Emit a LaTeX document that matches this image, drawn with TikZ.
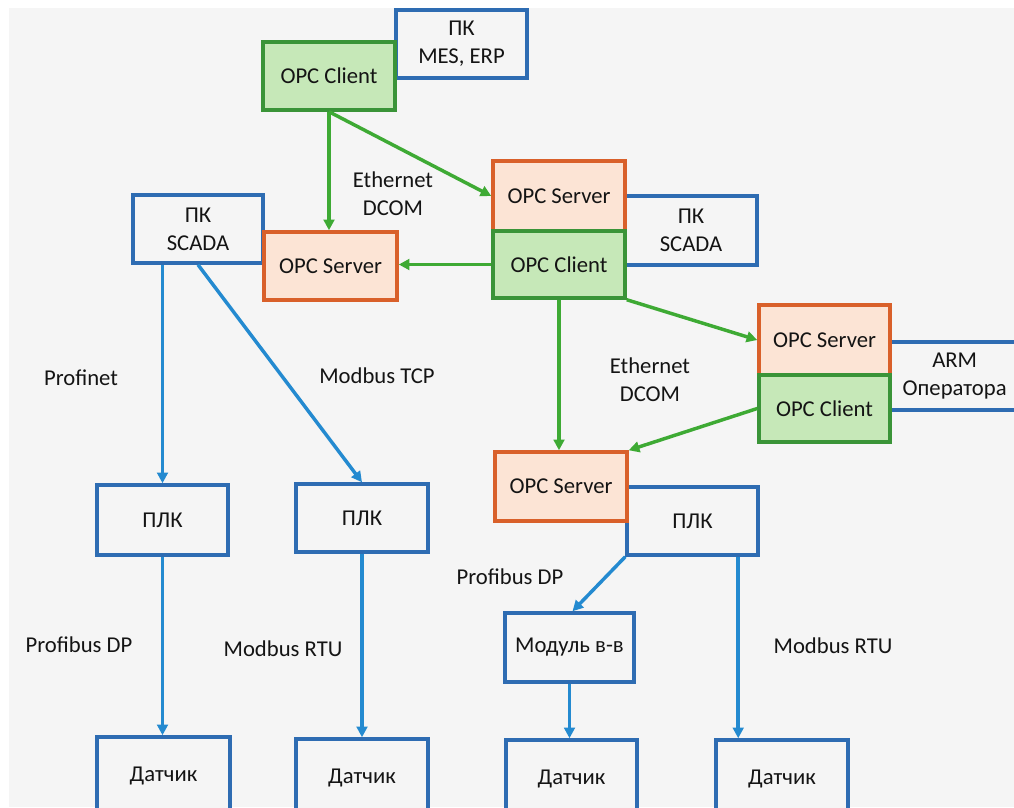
\documentclass[tikz,border=0pt]{standalone}
\usepackage{fontspec}
\setmainfont{Carlito}
\usetikzlibrary{arrows.meta,calc}

\definecolor{bgc}{RGB}{245,245,245}
\definecolor{boxblue}{RGB}{46,108,178}
\definecolor{linkblue}{RGB}{36,138,208}
\definecolor{srvline}{RGB}{217,96,42}
\definecolor{srvfill}{RGB}{252,228,213}
\definecolor{cliline}{RGB}{58,148,56}
\definecolor{clifill}{RGB}{198,232,184}
\definecolor{linkgreen}{RGB}{62,170,52}
\definecolor{txt}{RGB}{20,20,20}

\tikzset{
  box/.style={draw, line width=2.6pt, inner sep=0pt, align=center,
              text=txt, font=\fontsize{17}{21}\selectfont},
  hostbox/.style={box, draw=boxblue, fill=bgc},
  srvbox/.style={box, draw=srvline, fill=srvfill},
  clibox/.style={box, draw=cliline, fill=clifill},
  lbl/.style={align=center, text=txt, font=\fontsize{17}{21}\selectfont},
  glink/.style={draw=linkgreen, line width=2.6pt,
                -{Triangle[length=8pt,width=8pt]}},
  blink/.style={draw=linkblue, line width=2.6pt,
                -{Triangle[length=8pt,width=8pt]}},
  sz/.style 2 args={minimum width=#1*0.75pt, minimum height=#2*0.75pt}
}

\begin{document}
\begin{tikzpicture}[x=0.75pt, y=-0.75pt]
  \useasboundingbox (0,0) rectangle (1014,807);
  \clip (0,0) rectangle (1014,807);
  \fill[white] (0,0) rectangle (1014,807);
  \fill[bgc] (9,8) rectangle (1014,807);

  % host computers (behind the OPC blocks)
  \node[hostbox, sz={131}{68}] (mes)  at (461.5,44)  {ПК\\MES, ERP};
  \node[hostbox, sz={130}{68}] (scL)  at (198,229)   {ПК\\SCADA};
  \node[hostbox, sz={132}{69}] (scM)  at (691,230.5) {ПК\\SCADA};
  \node[hostbox, sz={140}{68}] (arm)  at (960,376)   {\hspace*{-8pt}ARM\\\hspace*{-8pt}Оператора};
  \node[hostbox, sz={131}{68}] (plcR) at (692.5,521)  {ПЛК};

  % OPC servers and clients
  \node[clibox, sz={132}{68}] (cl1) at (329,76)      {OPC Client};
  \node[srvbox, sz={133}{68}] (svL) at (330.5,266)   {OPC Server};
  \node[srvbox, sz={132}{70}] (sv2) at (559,196)     {OPC Server};
  \node[clibox, sz={132}{67}] (cl2) at (559,264.5)   {OPC Client};
  \node[srvbox, sz={131}{70}] (sv3) at (824.5,340)   {OPC Server};
  \node[clibox, sz={131}{67}] (cl3) at (824.5,408.5) {OPC Client};
  \node[srvbox, sz={132}{69}] (sv4) at (561,486.5)   {OPC Server};

  % field level
  \node[hostbox, sz={131}{70}] (plc1) at (162.5,520) {ПЛК};
  \node[hostbox, sz={132}{68}] (plc2) at (362,518)   {ПЛК};
  \node[hostbox, sz={129}{69}] (mod)  at (569.5,647.5) {Модуль в-в};
  \node[hostbox, sz={133}{78}] (d1) at (163.5,776) {Датчик};
  \node[hostbox, sz={132}{78}] (d2) at (362,778)   {Датчик};
  \node[hostbox, sz={131}{78}] (d3) at (571.5,779) {Датчик};
  \node[hostbox, sz={132}{78}] (d4) at (782,779)   {Датчик};

  % OPC links (Ethernet / DCOM)
  \draw[glink] (cl1.south) -- (cl1.south |- svL.north);
  \draw[glink] (cl1.south) -- (sv2.west);
  \draw[glink] (cl2.west) -- (cl2.west -| svL.east);
  \draw[glink] (cl2.south east) -- (sv3.west);
  \draw[glink] (cl2.south) -- (cl2.south |- sv4.north);
  \draw[glink] (cl3.west) -- (sv4.north east);

  % fieldbus links
  \draw[blink] (plc1.north |- scL.south) -- (plc1.north);
  \draw[blink] (scL.south) -- (plc2.north);
  \draw[blink] (plc1.south) -- (plc1.south |- d1.north);
  \draw[blink] (plc2.south) -- (plc2.south |- d2.north);
  \draw[blink] (plcR.south west) -- ($(mod.north)+(3,0)$);
  \draw[blink] ($(plcR.south west)!0.84!(plcR.south east)$) coordinate (tapR)
               -- (tapR |- d4.north);
  \draw[blink] (mod.south) -- (mod.south |- d3.north);

  % link labels
  \node[lbl] (e1) at (393,194) {Ethernet\\DCOM};
  \node[lbl] (e2) at (650,380) {Ethernet\\DCOM};
  \node[lbl] (pn) at (81,378)  {Profinet};
  \node[lbl] (mt) at (377,376) {Modbus TCP};
  \node[lbl] (p1) at (79,645)  {Profibus DP};
  \node[lbl] (m1) at (283,649) {Modbus RTU};
  \node[lbl] (p2) at (510,577) {Profibus DP};
  \node[lbl] (m2) at (833,646) {Modbus RTU};
\end{tikzpicture}
\end{document}
